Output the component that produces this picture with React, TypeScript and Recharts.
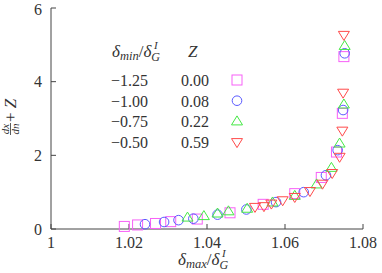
import { ScatterChart, Scatter, XAxis, YAxis } from 'recharts';

// delta_min/delta_G = -1.25 (Z = 0.00)
const squares = [
  { x: 1.0188, y: 0.07 }, { x: 1.0222, y: 0.11 }, { x: 1.0268, y: 0.15 },
  { x: 1.0307, y: 0.2 }, { x: 1.0375, y: 0.27 }, { x: 1.0459, y: 0.44 },
  { x: 1.0544, y: 0.67 }, { x: 1.0625, y: 0.96 }, { x: 1.0693, y: 1.4 },
  { x: 1.0732, y: 2.09 }, { x: 1.0747, y: 3.14 }, { x: 1.0751, y: 4.68 },
];
// -1.00 (Z = 0.08)
const circles = [
  { x: 1.0241, y: 0.13 }, { x: 1.029, y: 0.19 }, { x: 1.0327, y: 0.24 },
  { x: 1.0365, y: 0.28 }, { x: 1.0427, y: 0.39 }, { x: 1.0501, y: 0.53 },
  { x: 1.0577, y: 0.73 }, { x: 1.0648, y: 1.0 }, { x: 1.0705, y: 1.46 },
  { x: 1.0735, y: 2.14 }, { x: 1.0749, y: 3.23 }, { x: 1.0753, y: 4.77 },
];
// -0.75 (Z = 0.22)
const triangles = [
  { x: 1.035, y: 0.31 }, { x: 1.0392, y: 0.35 }, { x: 1.0427, y: 0.42 },
  { x: 1.0455, y: 0.48 }, { x: 1.0503, y: 0.55 }, { x: 1.0568, y: 0.72 },
  { x: 1.0625, y: 0.9 }, { x: 1.0681, y: 1.21 }, { x: 1.0719, y: 1.66 },
  { x: 1.074, y: 2.32 }, { x: 1.0751, y: 3.38 }, { x: 1.0753, y: 4.97 },
];
// -0.50 (Z = 0.59)
const invTriangles = [
  { x: 1.0523, y: 0.6 }, { x: 1.0546, y: 0.62 }, { x: 1.0565, y: 0.69 },
  { x: 1.0594, y: 0.78 }, { x: 1.0625, y: 0.87 }, { x: 1.0664, y: 1.03 },
  { x: 1.0696, y: 1.23 }, { x: 1.0721, y: 1.52 }, { x: 1.074, y: 1.96 },
  { x: 1.0747, y: 2.67 }, { x: 1.0749, y: 3.7 }, { x: 1.0751, y: 5.27 },
];

const deltaMinLabels = ['\u22121.25', '\u22121.00', '\u22120.75', '\u22120.50'];
const zLabels = ['0.00', '0.08', '0.22', '0.59'];
const xTicks = [1, 1.02, 1.04, 1.06, 1.08];
const yTicks = [0, 2, 4, 6];

const COLORS = ['#f760f7', '#5a5aff', '#44e844', '#ff4a4a'];
const FONT = 'Liberation Serif';
const TEXT = '#333';
const ts = { fontFamily: FONT };

const marker = (kind: number, cx: number, cy: number) => {
  const c = COLORS[kind];
  if (kind === 0) return <rect x={cx - 5} y={cy - 5} width={10} height={10} fill="none" stroke={c} />;
  if (kind === 1) return <circle cx={cx} cy={cy} r={4.8} fill="none" stroke={c} />;
  if (kind === 2)
    return <polygon points={`${cx},${cy - 5.5} ${cx + 5.5},${cy + 3.5} ${cx - 5.5},${cy + 3.5}`} fill="none" stroke={c} />;
  return <polygon points={`${cx},${cy + 5.5} ${cx + 5.5},${cy - 3.5} ${cx - 5.5},${cy - 3.5}`} fill="none" stroke={c} />;
};

const shapeFor = (kind: number) => (props: any) => marker(kind, props.cx, props.cy);

const noTick = () => <g />;

const XTick = (p: any) => (
  <text x={p.x} y={p.y} dy="0.71em" textAnchor="middle" fontSize={16} fill={TEXT} style={ts}>
    {p.payload.value}
  </text>
);

const YTick = (p: any) => (
  <text x={p.x} y={p.y} dy="0.355em" textAnchor="end" fontSize={16} fill={TEXT} style={ts}>
    {p.payload.value}
  </text>
);

export default function App() {
  return (
    <div style={{ position: 'absolute', left: 0, top: 0, width: 382, height: 273 }}>
      <ScatterChart width={382} height={273} margin={{ top: 8, right: 19, left: 0, bottom: 0 }}>
        <XAxis
          type="number"
          dataKey="x"
          xAxisId="b"
          domain={[1, 1.08]}
          ticks={xTicks}
          height={44}
          tickSize={-5}
          tickMargin={13}
          tick={XTick}
          stroke="#444"
        />
        <XAxis type="number" dataKey="x" xAxisId="t" orientation="top" domain={[1, 1.08]} ticks={xTicks} height={0} tickSize={-5} tick={noTick} stroke="#444" />
        <YAxis
          type="number"
          dataKey="y"
          yAxisId="l"
          domain={[0, 6]}
          ticks={yTicks}
          width={51}
          tickSize={-5}
          tickMargin={14}
          tick={YTick}
          stroke="#444"
        />
        <YAxis type="number" dataKey="y" yAxisId="r" orientation="right" domain={[0, 6]} ticks={yTicks} width={0} tickSize={-5} tick={noTick} stroke="#444" />
        <Scatter data={squares} xAxisId="b" yAxisId="l" shape={shapeFor(0)} isAnimationActive={false} />
        <Scatter data={circles} xAxisId="b" yAxisId="l" shape={shapeFor(1)} isAnimationActive={false} />
        <Scatter data={triangles} xAxisId="b" yAxisId="l" shape={shapeFor(2)} isAnimationActive={false} />
        <Scatter data={invTriangles} xAxisId="b" yAxisId="l" shape={shapeFor(3)} isAnimationActive={false} />
      </ScatterChart>
      <svg width={382} height={273} style={{ position: 'absolute', left: 0, top: 0, pointerEvents: 'none' }}>
        <g fill={TEXT}>
          {/* legend header */}
          <text x={112} y={57} fontSize={17} style={ts}>
            <tspan fontStyle="italic">δ</tspan>
            <tspan fontStyle="italic" fontSize={12.5} dy={3}>min</tspan>
            <tspan dy={-3}>/</tspan>
            <tspan fontStyle="italic">δ</tspan>
            <tspan fontStyle="italic" fontSize={12} dy={4}>G</tspan>
            <tspan fontStyle="italic" fontSize={11} dx={-6} dy={-12}>I</tspan>
          </text>
          <text x={188} y={57} fontSize={17} fontStyle="italic" style={ts}>Z</text>
          {deltaMinLabels.map((t, i) => (
            <text key={t} x={148} y={86 + i * 20.7} fontSize={16} textAnchor="end" style={ts}>{t}</text>
          ))}
          {zLabels.map((t, i) => (
            <text key={t} x={181} y={86 + i * 20.7} fontSize={16} style={ts}>{t}</text>
          ))}
          {/* x label */}
          <text x={178} y={265} fontSize={17} style={ts}>
            <tspan fontStyle="italic">δ</tspan>
            <tspan fontStyle="italic" fontSize={12.5} dy={3}>max</tspan>
            <tspan dy={-3}>/</tspan>
            <tspan fontStyle="italic">δ</tspan>
            <tspan fontStyle="italic" fontSize={12} dy={4}>G</tspan>
            <tspan fontStyle="italic" fontSize={11} dx={-6} dy={-12}>I</tspan>
          </text>
          {/* y label */}
          <g transform="translate(13,113) rotate(-90)">
            <text x={-16} y={-4} fontSize={11} fontStyle="italic" textAnchor="middle" style={ts}>dx</text>
            <line x1={-22} x2={-10} y1={-2.5} y2={-2.5} stroke={TEXT} strokeWidth={0.8} />
            <text x={-16} y={5.5} fontSize={11} fontStyle="italic" textAnchor="middle" style={ts}>dn</text>
            <text x={-9} y={3} fontSize={17} style={ts}>+ <tspan fontStyle="italic">Z</tspan></text>
          </g>
        </g>
        {COLORS.map((_, i) => (
          <g key={i}>{marker(i, 237, 80 + i * 20.7)}</g>
        ))}
      </svg>
    </div>
  );
}
